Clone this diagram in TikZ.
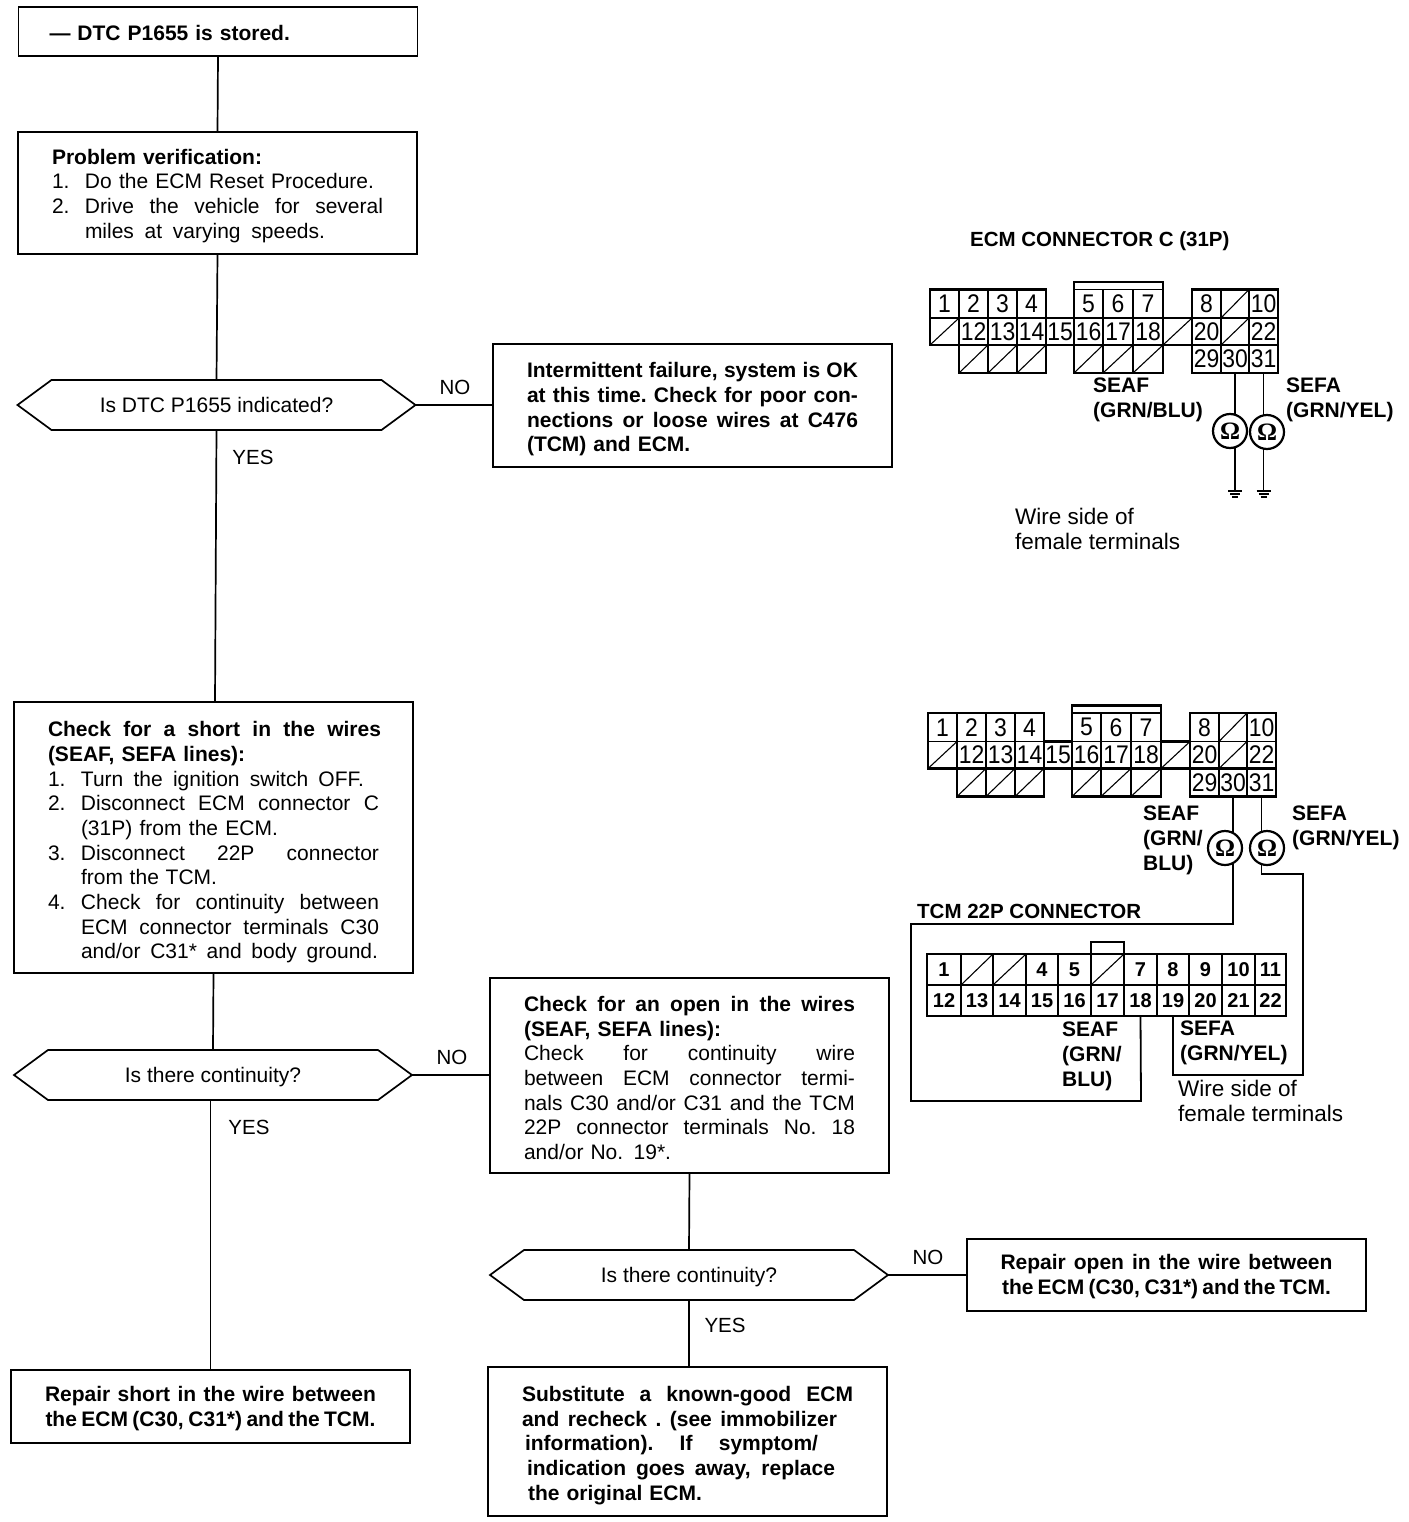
\documentclass[tikz,border=0pt]{standalone}
\usepackage{fontspec}
\setmainfont{Liberation Sans}
\newfontfamily\omfont{Liberation Serif}
\newfontfamily\pinfont[FakeStretch=0.9]{Liberation Sans}
\usetikzlibrary{calc}
\newcommand\stretchsp{\spaceskip=.28em plus 1fil minus .08em\relax\xspaceskip=\spaceskip}
\newcommand\jl[2]{\makebox[#1pt][s]{\stretchsp #2}}
\newcommand\numl[3]{\makebox[33pt][l]{#1}\makebox[#2pt][s]{\stretchsp #3}}
\newcommand\contl[2]{\hspace*{33pt}\makebox[#1pt][s]{\stretchsp #2}}
\newcommand\pd[1]{\rule{0pt}{\dimexpr 15pt+#1pt+#1pt\relax}}
\tikzset{
  box/.style={draw,line width=1.7pt,outer sep=0pt,inner ysep=0pt,inner xsep=34pt,
    minimum width=399pt,text width=331pt,align=left,
    font=\fontsize{21}{24.7}\selectfont},
  boldbox/.style={box,font=\fontsize{21}{24.7}\selectfont\bfseries},
  centerbox/.style={boldbox,align=center,inner xsep=20pt,text width=359pt},
  wire/.style={line width=1.8pt},
  flow/.style={line width=1.7pt},
  hexa/.style={outer sep=0pt,inner sep=0pt,minimum width=398pt,minimum height=50pt,
    font=\fontsize{21}{24.7}\selectfont},
  answer/.style={inner sep=0pt,font=\fontsize{20.5}{24.7}\selectfont},
  pincell/.style={draw,line width=1.1pt,inner sep=0pt,outer sep=0pt,font=\fontsize{25.5}{25.5}\selectfont\pinfont},
  tpin/.style={pincell,font=\fontsize{20}{20}\selectfont\bfseries},
  outl/.style={line width=2.6pt,line join=miter},
  lab/.style={inner sep=0pt,anchor=west,align=left,font=\fontsize{21}{25}\selectfont\bfseries},
  note/.style={inner sep=0pt,anchor=west,align=left,font=\fontsize{22.5}{25}\selectfont},
  ohm/.style={circle,draw,line width=2.2pt,fill=white,minimum size=34pt,inner sep=0pt,outer sep=0pt,
    font=\fontsize{25}{25}\selectfont\omfont\bfseries}
}
\newcommand\pin[7][pincell]{%
  \pgfmathsetmacro\pinw{#4-#3}\pgfmathsetmacro\pinh{#6-#5}%
  \pgfmathsetmacro\pinx{(#3+#4)/2}\pgfmathsetmacro\piny{(#5+#6)/2}%
  \node[#1,minimum width=\pinw pt,minimum height=\pinh pt] (#2) at (\pinx,\piny) {#7};}
\newcommand\dpin[6][pincell]{%
  \pin[#1]{#2}{#3}{#4}{#5}{#6}{}%
  \draw[line width=1.1pt] (#2.south west) -- (#2.north east);}
\newcommand\decision[4]{%
  \node[hexa] (#1) at (#2,#3) {#4};
  \draw[flow] (#1.west) -- ($(#1.north west)+(34,0)$) -- ($(#1.north east)+(-34,0)$) -- (#1.east)
    -- ($(#1.south east)+(-34,0)$) -- ($(#1.south west)+(34,0)$) -- cycle;}
\newcommand\ecmconn[1]{%
  \foreach \n/\a/\b in {1/930/959,2/959/988,3/988/1017,4/1017/1046,5/1074/1103,6/1103/1133,7/1133/1163,8/1192/1221,10/1249/1278}
    {\pin{#1-\n}{\a}{\b}{289.5}{318}{\n}}
  \dpin{#1-9}{1221}{1249}{289.5}{318}
  \foreach \n/\a/\b in {12/959/988,13/988/1017,14/1017/1046,15/1046/1074,16/1074/1103,17/1103/1133,18/1133/1163,20/1192/1221,22/1249/1278}
    {\pin{#1-\n}{\a}{\b}{318}{345}{\n}}
  \foreach \n/\a/\b in {11/930/959,19/1163/1192,21/1221/1249}
    {\dpin{#1-\n}{\a}{\b}{318}{345}}
  \foreach \n/\a/\b in {23/959/988,24/988/1017,25/1017/1046,26/1074/1103,27/1103/1133,28/1133/1163}
    {\dpin{#1-\n}{\a}{\b}{345}{373}}
  \foreach \n/\a/\b in {29/1192/1221,30/1221/1249,31/1249/1278}
    {\pin{#1-\n}{\a}{\b}{345}{373}{\n}}
  \draw[outl] (930,289.5) -- (1046,289.5) -- (1046,318) -- (1074,318) -- (1074,282) -- (1163,282) -- (1163,318)
    -- (1192,318) -- (1192,289.5) -- (1278,289.5) -- (1278,373) -- (1192,373) -- (1192,345) -- (1163,345)
    -- (1163,373) -- (1074,373) -- (1074,345) -- (1046,345) -- (1046,373) -- (959,373) -- (959,345) -- (930,345) -- cycle;
  \draw[outl] (959,345) -- (1278,345);
  \draw[outl] (959,289.5) -- (959,345);
  \draw[outl] (1192,318) -- (1192,373);
  \draw[outl] (1074,318) -- (1074,345);
  \draw[outl] (1163,318) -- (1163,345);
  \draw[outl] (1046,318) -- (1046,345);}
\newcommand\gsym[1]{%
  \draw[line width=1.3pt] ($(#1)+(-7,0)$) -- ($(#1)+(7,0)$);
  \draw[line width=1.3pt] ($(#1)+(-5,3)$) -- ($(#1)+(5,3)$);
  \draw[line width=1.3pt] ($(#1)+(-3,6)$) -- ($(#1)+(3,6)$);}
\begin{document}
\begin{tikzpicture}[x=1pt,y=-1pt]
\useasboundingbox[fill=white] (0,0) rectangle (1408,1522);

% --- flow boxes
\node[boldbox,minimum height=49pt,inner xsep=31pt,text width=337pt] (b1) at (218,31.5) {\pd{2}— DTC P1655 is stored.};
\node[box,minimum height=122pt] (b2) at (217.5,193) {\pd{3}\textbf{Problem verification:}\\
  \numl{1.}{289}{Do the ECM Reset Procedure.}\\
  \numl{2.}{298}{Drive the vehicle for several}\\
  \contl{240}{miles at varying speeds.}};
\decision{d1}{216.5}{405}{\pd{0}Is DTC P1655 indicated?}
\node[boldbox,minimum height=123pt] (b3) at (692.5,405.5) {\pd{4}\jl{331}{Intermittent failure, system is OK}\\
  \jl{331}{at this time. Check for poor con-}\\
  \jl{331}{nections or loose wires at C476}\\
  (TCM) and ECM.};
\node[box,minimum height=271pt] (b4) at (213.5,837.5) {\pd{5}\textbf{\jl{333}{Check for a short in the wires}}\\
  \textbf{(SEAF, SEFA lines):}\\
  \numl{1.}{283}{Turn the ignition switch OFF.}\\
  \numl{2.}{298}{Disconnect ECM connector C}\\
  \contl{197}{(31P) from the ECM.}\\
  \numl{3.}{298}{Disconnect 22P connector}\\
  \contl{136}{from the TCM.}\\
  \numl{4.}{298}{Check for continuity between}\\
  \contl{298}{ECM connector terminals C30}\\
  \contl{297}{and/or C31* and body ground.}};
\decision{d2}{213}{1075}{\pd{2}Is there continuity?}
\node[box,minimum height=195pt] (b5) at (689.5,1075.5) {\pd{2.5}\textbf{\jl{331}{Check for an open in the wires}}\\
  \textbf{(SEAF, SEFA lines):}\\
  \jl{331}{Check for continuity wire}\\
  \jl{331}{between ECM connector termi-}\\
  \jl{331}{nals C30 and/or C31 and the TCM}\\
  \jl{331}{22P connector terminals No. 18}\\
  and/or No. 19*.};
\node[centerbox,minimum height=73pt] (b6) at (210.5,1406.5) {\pd{2}\jl{331}{Repair short in the wire between}\\\jl{330}{the ECM (C30, C31*) and the TCM.}};
\decision{d3}{689}{1275}{\pd{2.5}Is there continuity?}
\node[centerbox,minimum height=72pt] (b7) at (1166.5,1275) {\pd{2}\jl{332}{Repair open in the wire between}\\\jl{329}{the ECM (C30, C31*) and the TCM.}};
\node[boldbox,minimum height=149pt] (b8) at (687.5,1441.5) {\pd{4}\jl{331}{Substitute a known-good ECM}\\
  \jl{315}{and recheck . (see immobilizer}\\
  \hspace*{3pt}\jl{293}{information). If symptom/}\\
  \hspace*{5pt}\jl{308}{indication goes away, replace}\\
  \hspace*{6pt}the original ECM.};

% --- flow connectors
\draw[flow] (b1.south) -- (b2.north);
\draw[flow] (b2.south) -- (d1.north);
\draw[flow] (d1.east) -- (b3.west |- d1.east);
\draw[flow] (d1.south) -- ($(b4.north)+(1.5,0)$);
\draw[flow] (b4.south) -- (d2.north);
\draw[flow] (d2.east) -- (b5.west |- d2.east);
\draw[flow] (b6.north |- d2.south) -- (b6.north);
\draw[flow] (b5.south) -- (d3.north);
\draw[flow] (d3.east) -- (b7.west |- d3.east);
\draw[flow] (d3.south) -- (d3.south |- b8.north);

% --- answers
\node[answer] (no1) at (455,387) {NO};
\node[answer] (yes1) at (253,457) {YES};
\node[answer] (no2) at (452,1057) {NO};
\node[answer] (yes2) at (249,1127) {YES};
\node[answer] (no3) at (928,1257) {NO};
\node[answer] (yes3) at (725,1325) {YES};

% --- ECM connector, upper
\node[lab,font=\fontsize{20.5}{25}\selectfont\bfseries] (ttl1) at (970,241) {ECM CONNECTOR C (31P)};
\ecmconn{e1}
\node[lab] (seaf1) at (1093,400) {SEAF\\(GRN/BLU)};
\node[lab] (sefa1) at (1286,400) {SEFA\\(GRN/YEL)};
\node[ohm] (om1) at (1230,431) {Ω};
\node[ohm] (om2) at (1267,432) {Ω};
\coordinate (g1) at (e1-30.south |- 0,491);
\coordinate (g2) at (e1-31.south |- 0,491);
\draw[wire] (e1-30.south) -- (e1-30.south |- om1.73);
\draw[wire] (e1-31.south) -- (e1-31.south |- om2.104);
\draw[wire] (e1-30.south |- om1.-73) -- (g1);
\draw[wire] (e1-31.south |- om2.-104) -- (g2);
\gsym{g1}
\gsym{g2}
\node[note] (ws1) at (1015,529) {Wire side of\\female terminals};

% --- ECM connector, lower
\begin{scope}[shift={(-2,423.5)}]
\ecmconn{e2}
\end{scope}
\node[lab] (seaf2) at (1143,840) {SEAF\\(GRN/\\BLU)};
\node[lab] (sefa2) at (1292,827.5) {SEFA\\(GRN/YEL)};
\node[ohm] (om3) at (1225,848) {Ω};
\node[ohm] (om4) at (1267,848) {Ω};
\draw[wire] (e2-30.south) -- (e2-30.south |- om3.60);
\draw[wire] (e2-31.south) -- (e2-31.south |- om4.105);

% --- TCM connector
\node[lab,font=\fontsize{20.5}{25}\selectfont\bfseries] (ttl2) at (917,911) {TCM 22P CONNECTOR};
\foreach \n/\a/\b in {1/927/961,4/1026/1058,5/1058/1091,7/1124/1157,8/1157/1189,9/1189/1222,10/1222/1255,11/1255/1286}
  {\pin[tpin]{t-\n}{\a}{\b}{954}{985}{\n}}
\foreach \n/\a/\b in {2/961/993,3/993/1026,6/1091/1124}
  {\dpin{t-\n}{\a}{\b}{954}{985}}
\foreach \n/\a/\b in {12/927/961,13/961/993,14/993/1026,15/1026/1058,16/1058/1091,17/1091/1124,18/1124/1157,19/1157/1189,20/1189/1222,21/1222/1255,22/1255/1286}
  {\pin[tpin]{t-\n}{\a}{\b}{985}{1016}{\n}}
\draw[outl] (927,954) rectangle (1286,1016);
\draw[outl] (927,985) -- (1286,985);
\draw[outl] (1091,954) -- (1091,942) -- (1124,942) -- (1124,954);
\coordinate (c1) at (911,924);
\coordinate (c2) at (1141,1101);
\coordinate (c3) at (1303,874);
\coordinate (c4) at (1303,1075);
\draw[wire,line join=miter] (e2-30.south |- om3.-60) |- (c1) |- (c2) -- (t-18.south);
\draw[wire,line join=miter] (e2-31.south |- om4.-105) |- (c3) -- (c4) -| (t-19.south);
\node[lab] (seaf3) at (1062,1056) {SEAF\\(GRN/\\BLU)};
\node[lab] (sefa3) at (1180,1042.5) {SEFA\\(GRN/YEL)};
\node[note] (ws2) at (1178,1101) {Wire side of\\female terminals};
\end{tikzpicture}
\end{document}
